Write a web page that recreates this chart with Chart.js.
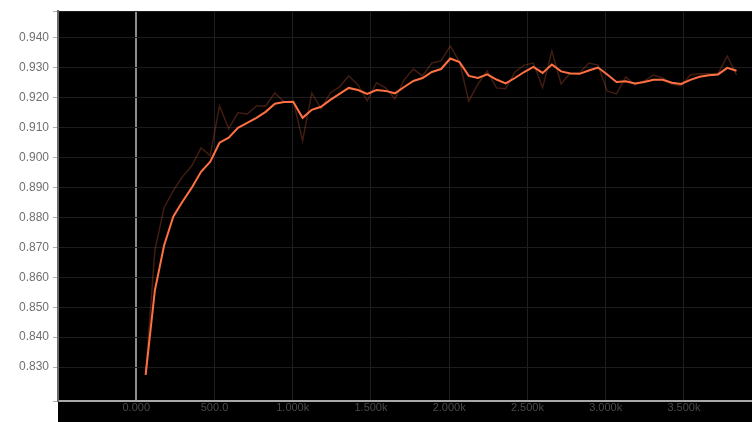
<!DOCTYPE html>
<html>
<head>
<meta charset="utf-8">
<script src="https://cdn.jsdelivr.net/npm/chart.js@4/dist/chart.umd.min.js"></script>
<style>
  html, body { margin: 0; padding: 0; background: #fff; }
  #wrap { width: 752px; height: 422px; }
</style>
</head>
<body>
<div id="wrap"><canvas id="accChart" width="752" height="422"></canvas></div>
<script>
// training steps of each evaluation
const steps = [60, 119, 178, 237, 296, 355, 414, 473, 532, 591, 650, 709, 768, 827, 886, 945,
  1004, 1063, 1122, 1181, 1240, 1299, 1358, 1417, 1476, 1535, 1594, 1653, 1712, 1771, 1830, 1889,
  1948, 2007, 2066, 2125, 2184, 2243, 2302, 2361, 2420, 2479, 2538, 2597, 2656, 2715, 2774, 2833,
  2892, 2951, 3010, 3069, 3128, 3187, 3246, 3305, 3364, 3423, 3482, 3541, 3600, 3659, 3718, 3777, 3836];

// raw accuracy per evaluation
const rawAcc = [0.8274, 0.8690, 0.8833, 0.8889, 0.8936, 0.8972, 0.9032, 0.9006, 0.9172, 0.9096,
  0.9149, 0.9145, 0.9172, 0.9172, 0.9215, 0.9185, 0.9189, 0.9056, 0.9215, 0.9162,
  0.9215, 0.9235, 0.9272, 0.9242, 0.9189, 0.9249, 0.9232, 0.9195, 0.9259, 0.9295,
  0.9272, 0.9315, 0.9322, 0.9372, 0.9318, 0.9188, 0.9245, 0.9289, 0.9232, 0.9229,
  0.9285, 0.9308, 0.9315, 0.9233, 0.9355, 0.9245, 0.9282, 0.9282, 0.9315, 0.9308,
  0.9222, 0.9212, 0.9269, 0.9242, 0.9255, 0.9275, 0.9265, 0.9245, 0.9239, 0.9275,
  0.9279, 0.9279, 0.9279, 0.9338, 0.9275];

// smoothed accuracy
const smoothAcc = [0.8274, 0.8556, 0.8706, 0.8803, 0.8853, 0.8899, 0.8952, 0.8986, 0.9049, 0.9066,
  0.9099, 0.9115, 0.9132, 0.9152, 0.9179, 0.9185, 0.9185, 0.9132, 0.9159, 0.9169,
  0.9192, 0.9212, 0.9232, 0.9225, 0.9212, 0.9225, 0.9222, 0.9214, 0.9235, 0.9255,
  0.9265, 0.9285, 0.9295, 0.9330, 0.9318, 0.9272, 0.9265, 0.9277, 0.9260, 0.9247,
  0.9265, 0.9285, 0.9302, 0.9282, 0.9310, 0.9287, 0.9280, 0.9279, 0.9290, 0.9300,
  0.9277, 0.9252, 0.9254, 0.9247, 0.9252, 0.9259, 0.9259, 0.9249, 0.9245, 0.9259,
  0.9269, 0.9274, 0.9277, 0.9299, 0.9289];

const xTickValues = [0, 500, 1000, 1500, 2000, 2500, 3000, 3500];
const xTickLabels = ["0.000", "500.0", "1.000k", "1.500k", "2.000k", "2.500k", "3.000k", "3.500k"];
const yTickValues = [0.83, 0.84, 0.85, 0.86, 0.87, 0.88, 0.89, 0.90, 0.91, 0.92, 0.93, 0.94];
const yTickLabels = ["0.830", "0.840", "0.850", "0.860", "0.870", "0.880", "0.890", "0.900", "0.910", "0.920", "0.930", "0.940"];

const X_MIN = -500, X_MAX = 3935;
const Y_MIN = 0.8187, Y_MAX = 0.9488;

const toPoints = (ys) => steps.map((s, i) => ({ x: s, y: ys[i] }));

// black plot panel, runs down past the x axis to the bottom edge
const panelBg = {
  id: "panelBg",
  beforeDraw(chart) {
    const { ctx, chartArea } = chart;
    ctx.save();
    ctx.fillStyle = "#000";
    ctx.fillRect(chartArea.left, chartArea.top, chart.width - chartArea.left, chart.height - chartArea.top);
    ctx.restore();
  },
};

new Chart(document.getElementById("accChart").getContext("2d"), {
  type: "line",
  data: {
    datasets: [
      {
        label: "smoothed",
        data: toPoints(smoothAcc),
        borderColor: "#ff7043",
        borderWidth: 2,
        pointRadius: 0,
        tension: 0,
      },
      {
        label: "raw",
        data: toPoints(rawAcc),
        borderColor: "rgba(255, 112, 67, 0.25)",
        borderWidth: 1.5,
        pointRadius: 0,
        tension: 0,
      },
    ],
  },
  options: {
    responsive: false,
    animation: false,
    layout: { padding: { top: 10, right: 0, bottom: 0, left: 0 } },
    plugins: {
      legend: { display: false },
      tooltip: { enabled: false },
    },
    scales: {
      x: {
        type: "linear",
        min: X_MIN,
        max: X_MAX,
        afterBuildTicks: (scale) => {
          scale.ticks = [X_MIN, ...xTickValues].map((value) => ({ value }));
        },
        afterFit: (scale) => { scale.height = 21; },
        ticks: {
          padding: 0,
          maxRotation: 0,
          autoSkip: false,
          color: "#4a4a4a",
          font: { family: "'Liberation Sans', Arial, sans-serif", size: 11 },
          callback: (value) => {
            const i = xTickValues.indexOf(value);
            return i >= 0 ? xTickLabels[i] : "";
          },
        },
        grid: {
          drawTicks: false,
          color: (c) => (c.tick && c.tick.value === 0 ? "#8c8c8c" : "#1f1f1f"),
          lineWidth: (c) => (c.tick && c.tick.value === 0 ? 2 : 1),
        },
        border: { color: "#a8a8a8", width: 2 },
      },
      y: {
        type: "linear",
        min: Y_MIN,
        max: Y_MAX,
        afterBuildTicks: (scale) => {
          scale.ticks = [Y_MIN, ...yTickValues, Y_MAX].map((value) => ({ value }));
        },
        afterFit: (scale) => { scale.width = 58; },
        ticks: {
          padding: 4,
          autoSkip: false,
          color: "#707070",
          font: { family: "'Liberation Sans', Arial, sans-serif", size: 12 },
          callback: (value) => {
            const i = yTickValues.findIndex((v) => Math.abs(v - value) < 1e-6);
            return i >= 0 ? yTickLabels[i] : "";
          },
        },
        grid: {
          color: "#1c1c1c",
          tickColor: "#b0b0b0",
          tickLength: 5,
        },
        border: { color: "#6a6a6a", width: 2 },
      },
    },
  },
  plugins: [panelBg],
});
</script>
</body>
</html>
